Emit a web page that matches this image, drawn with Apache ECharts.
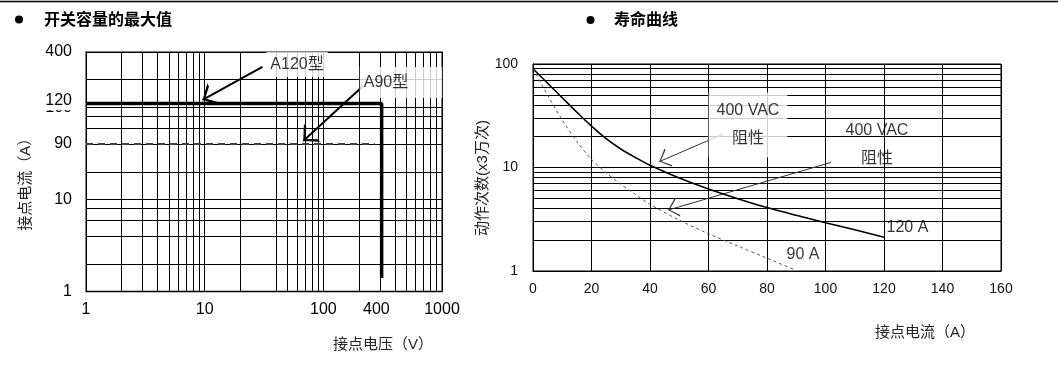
<!DOCTYPE html>
<html>
<head>
<meta charset="utf-8">
<title>开关容量的最大值 / 寿命曲线</title>
<script src="https://cdn.jsdelivr.net/npm/echarts@6/dist/echarts.min.js"></script>
<style>
html, body { margin: 0; padding: 0; background: #fff; }
#chart { width: 1058px; height: 376px; }
</style>
</head>
<body>
<div id="chart"></div>
<script>
// 开关容量的最大值（双对数坐标）
var capVoltGrid = [1, 2, 3, 4, 5, 6, 7, 8, 9, 10, 20, 40, 50, 60, 70, 80, 90, 100, 200, 300, 400, 500, 600, 700, 800, 900, 1000];
var capAmpGrid = [1, 2, 4, 6, 8, 10, 20, 40, 60, 80, 100, 200, 400];
var capVoltTicks = [1, 10, 100, 280, 1000];
var capVoltTickText = ["1", "10", "100", "400", "1000"];
var capAmpTicks = [1, 10, 40, 100, 120, 400];
var capAmpTickText = ["1", "10", "90", "100", "120", "400"];
var a120Volt = [1, 310, 310];
var a120Amp = [110, 110, 1.4];
var a90Volt = [1, 272];
var a90Amp = [40, 40];
var capNoteText = ["A120型", "A90型"];
var capNoteVolt = [60, 451];
var capNoteAmp = [293, 187];
var capArrowFrom = [[30.7, 275], [216, 171]];
var capArrowTo = [[9.6, 120.7], [67.7, 43.2]];

// 寿命曲线（半对数坐标）
var lifeCountGrid = [1, 2, 3, 4, 5, 6, 7, 8, 9, 10, 20, 30, 40, 50, 60, 70, 80, 90, 100];
var lifeCountTicks = [1, 10, 100];
var life120Amp = [0, 5, 10, 15, 20, 25, 30, 35, 40, 50, 60, 70, 80, 90, 100, 110, 120];
var life120Count = [90, 65.2, 47.2, 34.2, 25.1, 19.0, 15.1, 12.5, 10.5, 7.9, 6.2, 5.0, 4.1, 3.45, 2.93, 2.5, 2.12];
var life90Amp = [0, 5, 10, 15, 20, 25, 30, 35, 40, 50, 60, 70, 80, 89];
var life90Count = [90, 50, 28.8, 17.8, 12.0, 8.9, 6.9, 5.5, 4.4, 3.1, 2.29, 1.74, 1.33, 1.04];
var lifeNoteText = ["400 VAC\n阻性", "400 VAC\n阻性", "120 A", "90 A"];
var lifeNoteAmp = [73.5, 117.6, 128, 92.3];
var lifeNoteCount = [25.7, 16.8, 2.62, 1.45];
var lifeArrowFrom = [[65.1, 21.1], [101.9, 11.2]];
var lifeArrowTo = [[43.2, 11.4], [46.2, 3.88]];

var FONT = "'Liberation Sans', 'Noto Sans CJK SC', sans-serif";
// open arrow head, tip sits in the middle of the symbol box
var headThick = "path://M10,0 L10.01,0 Z M10,20 L17,40 L15,40 L10,25 L5,40 L3,40 Z";
var headThin = "path://M10,0 L10.01,0 Z M10,20 L16,40 L14.8,40 L10,23 L5.2,40 L4,40 Z";

function zip(xs, ys) {
  return xs.map(function(x, i) {
    return [x, ys[i]];
  });
}

function tickText(values, texts) {
  return function(v) {
    for (var i = 0; i < values.length; i++) {
      if (Math.abs(v - values[i]) / values[i] < 0.01) return texts[i];
    }
    return "";
  };
}

function arrows(from, to) {
  return from.map(function(p, i) {
    return { coords: [p, to[i]] };
  });
}

function initCharts() {
  var chart = echarts.init(document.getElementById("chart"));

  var capNotes = capNoteText.map(function(t, i) {
    return {
      name: t,
      value: [capNoteVolt[i], capNoteAmp[i]],
      label: { padding: i === 0 ? [5, 4, 2, 4] : [7, 34, 6, 4] }
    };
  });
  var lifeNotes = lifeNoteText.map(function(t, i) {
    var item = { name: t, value: [lifeNoteAmp[i], lifeNoteCount[i]] };
    if (i === 0) {
      // 第一个标注有白底，遮住网格线
      item.label = { backgroundColor: "#fff", padding: [7, 8, 2, 8] };
    }
    return item;
  });

  var option = {
    animation: false,
    textStyle: { fontFamily: FONT },
    graphic: [
      { type: "line", shape: { x1: 0, y1: 1.5, x2: 1058, y2: 1.5 }, style: { stroke: "#000", lineWidth: 1.5 } },
      { type: "circle", shape: { cx: 19, cy: 19.5, r: 4 }, style: { fill: "#000" } },
      {
        type: "text", x: 44, y: 19,
        style: { text: "开关容量的最大值", font: "bold 16px 'Noto Sans CJK SC'", fill: "#000", align: "left", verticalAlign: "middle" }
      },
      { type: "circle", shape: { cx: 590.5, cy: 20, r: 4 }, style: { fill: "#000" } },
      {
        type: "text", x: 614, y: 19,
        style: { text: "寿命曲线", font: "bold 16px 'Noto Sans CJK SC'", fill: "#000", align: "left", verticalAlign: "middle" }
      }
    ],
    grid: [
      { left: 86, top: 52, width: 356, height: 239.5, show: true, borderColor: "#808080", borderWidth: 2 },
      { left: 533, top: 64, width: 468, height: 207, show: true, borderColor: "#000", borderWidth: 1 }
    ],
    xAxis: [
      {
        type: "log", gridIndex: 0, min: 1, max: 1000,
        axisLine: { show: false },
        axisTick: { show: false, customValues: capVoltGrid },
        axisLabel: {
          customValues: capVoltTicks,
          formatter: tickText(capVoltTicks, capVoltTickText),
          fontSize: 16, color: "#000", margin: 10
        },
        splitLine: { show: true, lineStyle: { color: "#000", width: 1 } },
        name: "接点电压（V）", nameLocation: "middle", nameGap: 46,
        nameTextStyle: { fontSize: 15, color: "#222", padding: [0, 0, 0, 238] }
      },
      {
        type: "value", gridIndex: 1, min: 0, max: 160, interval: 20,
        axisLine: { show: true, lineStyle: { color: "#000" } },
        axisTick: { show: false },
        axisLabel: { fontSize: 14, color: "#111", margin: 11 },
        splitLine: { show: true, lineStyle: { color: "#000", width: 1 } },
        name: "接点电流（A）", nameLocation: "middle", nameGap: 54,
        nameTextStyle: { fontSize: 15, color: "#222", padding: [0, 0, 0, 316] }
      }
    ],
    yAxis: [
      {
        type: "log", gridIndex: 0, min: 1, max: 400,
        axisLine: { show: false },
        axisTick: { show: false, customValues: capAmpGrid },
        axisLabel: {
          customValues: capAmpTicks,
          formatter: tickText(capAmpTicks, capAmpTickText),
          fontSize: 16, color: "#000", margin: 14,
          backgroundColor: "#fff", lineHeight: 20
        },
        splitLine: { show: true, lineStyle: { color: "#000", width: 1 } },
        name: "接点电流（A）", nameLocation: "middle", nameGap: 53,
        nameTextStyle: { fontSize: 15, color: "#222", padding: [0, 18, 0, 0] }
      },
      {
        type: "log", gridIndex: 1, min: 1, max: 100,
        axisLine: { show: true, lineStyle: { color: "#000" } },
        axisTick: { show: false, customValues: lifeCountGrid },
        axisLabel: { customValues: lifeCountTicks, fontSize: 14, color: "#111", margin: 15 },
        splitLine: { show: true, lineStyle: { color: "#000", width: 1 } },
        name: "动作次数(x3万次)", nameLocation: "middle", nameGap: 35,
        nameTextStyle: { fontSize: 15, color: "#222", padding: [0, 21, 0, 0] }
      }
    ],
    series: [
      {
        name: "A120型", type: "line", xAxisIndex: 0, yAxisIndex: 0,
        data: zip(a120Volt, a120Amp), symbol: "none",
        lineStyle: { color: "#000", width: 3.5 }
      },
      {
        name: "A90型", type: "line", xAxisIndex: 0, yAxisIndex: 0,
        data: zip(a90Volt, a90Amp), symbol: "none",
        lineStyle: { color: "#404040", width: 2, type: [7, 5] }
      },
      {
        type: "lines", coordinateSystem: "cartesian2d", xAxisIndex: 0, yAxisIndex: 0,
        data: arrows(capArrowFrom, capArrowTo),
        symbol: ["none", headThick], symbolSize: 24,
        lineStyle: { color: "#000", width: 2, opacity: 1 }
      },
      {
        type: "scatter", xAxisIndex: 0, yAxisIndex: 0, symbolSize: 0,
        data: capNotes,
        label: {
          show: true, position: "inside", formatter: "{b}",
          fontSize: 16, color: "#000", lineHeight: 18, backgroundColor: "#fff"
        }
      },
      {
        name: "120 A", type: "line", xAxisIndex: 1, yAxisIndex: 1,
        data: zip(life120Amp, life120Count), symbol: "none", smooth: 0.3,
        lineStyle: { color: "#000", width: 1.6 }
      },
      {
        name: "90 A", type: "line", xAxisIndex: 1, yAxisIndex: 1,
        data: zip(life90Amp, life90Count), symbol: "none", smooth: 0.3,
        lineStyle: { color: "#555", width: 1, type: [3, 3] }
      },
      {
        type: "lines", coordinateSystem: "cartesian2d", xAxisIndex: 1, yAxisIndex: 1,
        data: arrows(lifeArrowFrom, lifeArrowTo),
        symbol: ["none", headThin], symbolSize: 20,
        lineStyle: { color: "#333", width: 1, opacity: 1 }
      },
      {
        type: "scatter", xAxisIndex: 1, yAxisIndex: 1, symbolSize: 0,
        data: lifeNotes,
        label: {
          show: true, position: "inside", formatter: "{b}",
          fontSize: 16, color: "#000", lineHeight: 28, align: "center"
        }
      }
    ]
  };
  chart.setOption(option);
}

initCharts();
</script>
</body>
</html>
